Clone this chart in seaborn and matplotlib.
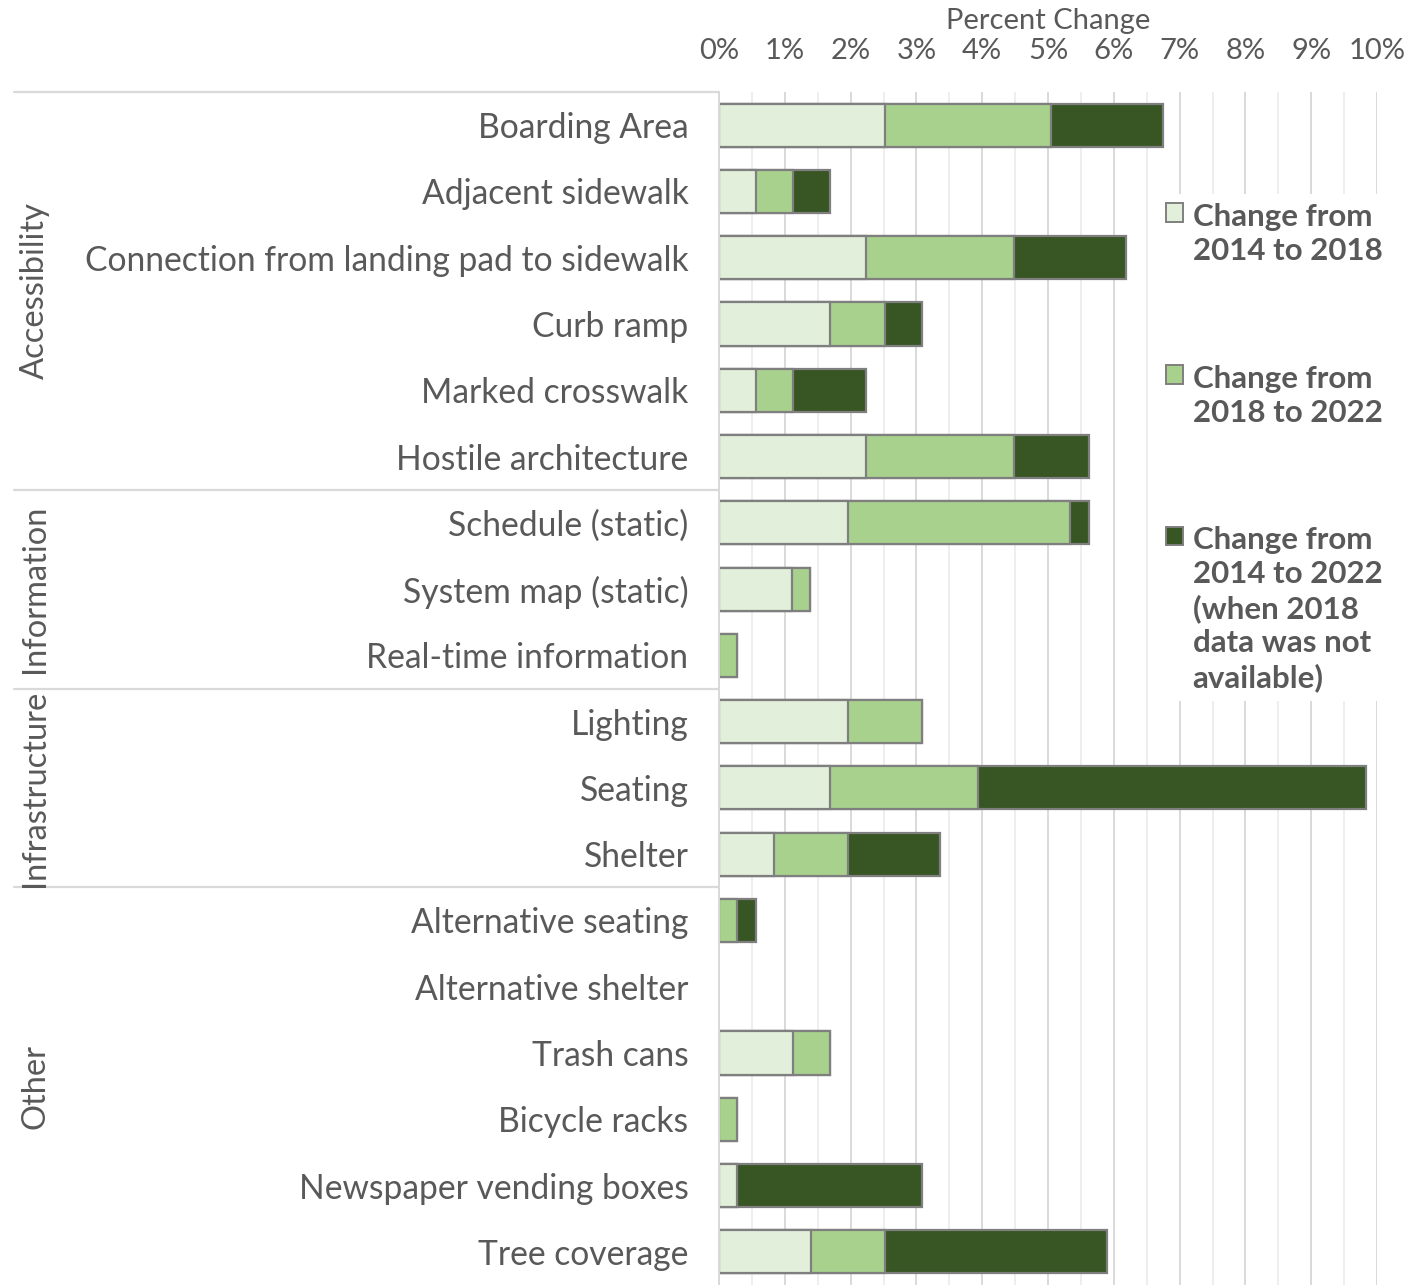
import numpy as np
import pandas as pd
import matplotlib.pyplot as plt
import matplotlib.transforms as mtransforms
from matplotlib.lines import Line2D
from matplotlib.patches import Patch
import seaborn as sns

# data (percent change)
items = [
    "Boarding Area", "Adjacent sidewalk", "Connection from landing pad to sidewalk",
    "Curb ramp", "Marked crosswalk", "Hostile architecture",
    "Schedule (static)", "System map (static)", "Real-time information",
    "Lighting", "Seating", "Shelter",
    "Alternative seating", "Alternative shelter", "Trash cans",
    "Bicycle racks", "Newspaper vending boxes", "Tree coverage",
]
groups = ["Accessibility", "Information", "Infrastructure", "Other"]
group_sizes = [6, 3, 3, 6]

chg_14_18 = [2.52, 0.56, 2.24, 1.68, 0.56, 2.24, 1.96, 1.11, 0.0, 1.96, 1.68, 0.84,
             0.0, 0.0, 1.12, 0.0, 0.28, 1.40]
chg_18_22 = [2.53, 0.56, 2.25, 0.84, 0.56, 2.25, 3.38, 0.28, 0.28, 1.12, 2.25, 1.12,
             0.28, 0.0, 0.56, 0.28, 0.0, 1.12]
chg_14_22 = [1.70, 0.56, 1.69, 0.56, 1.12, 1.13, 0.28, 0.0, 0.0, 0.0, 5.91, 1.40,
             0.28, 0.0, 0.0, 0.0, 2.81, 3.37]

series_labels = [
    "Change from\n2014 to 2018",
    "Change from\n2018 to 2022",
    "Change from\n2014 to 2022\n(when 2018\ndata was not\navailable)",
]
colors = ["#e2efda", "#a9d18e", "#375623"]
edge = "#7f7f7f"
text_col = "#595959"

df = pd.DataFrame({"item": items, "a": chg_14_18, "b": chg_18_22, "c": chg_14_22})
df["cum1"] = df["a"]
df["cum2"] = df["a"] + df["b"]
df["cum3"] = df["cum2"] + df["c"]
for col in ["cum1", "cum2", "cum3"]:
    df[col] = df[col].replace(0, np.nan)

sns.set_theme(style="white")
plt.rcParams["font.family"] = ["Lato", "DejaVu Sans"]
plt.rcParams["text.color"] = text_col

fig = plt.figure(figsize=(14.16, 12.85), dpi=100)
ax = fig.add_axes([719 / 1416, 0.0, 658 / 1416, 1 - 92 / 1285])

# stacked bars: draw cumulative totals from longest to shortest
for col, c in zip(["cum3", "cum2", "cum1"], colors[::-1]):
    sns.barplot(data=df, y="item", x=col, order=items, color=c, saturation=1,
                edgecolor=edge, linewidth=1.6, width=0.65, errorbar=None, ax=ax)

ax.set_xlim(0, 10)
ax.set_ylim(len(items) - 0.5, -0.5)
ax.xaxis.tick_top()
ax.xaxis.set_label_position("top")
ax.set_xticks(np.arange(0, 11, 1))
ax.set_xticks(np.arange(0.5, 10, 1), minor=True)
ax.set_xticklabels([f"{i}%" for i in range(11)])
ax.xaxis.grid(True, which="major", color="#d9d9d9", linewidth=1.4)
ax.xaxis.grid(True, which="minor", color="#ebebeb", linewidth=1.2)
ax.set_axisbelow(True)
ax.tick_params(axis="x", which="both", length=0, pad=20, labelsize=21,
               labelcolor=text_col)
ax.tick_params(axis="y", length=0, pad=22, labelsize=24.2, labelcolor=text_col)
ax.set_xlabel("Percent Change", fontsize=21, color=text_col, labelpad=7)
ax.set_ylabel("")

for s in ["top", "right", "bottom"]:
    ax.spines[s].set_visible(False)
ax.spines["left"].set_color("#d9d9d9")
ax.spines["left"].set_linewidth(1.4)

# group separators and labels on the left
trans = mtransforms.blended_transform_factory(fig.transFigure, ax.transData)
start = 0
for g, n in zip(groups, group_sizes):
    fig.add_artist(Line2D([14 / 1416, 719 / 1416], [start - 0.5, start - 0.5],
                          transform=trans, color="#d9d9d9", linewidth=1.6))
    fig.text(35 / 1416, start + (n - 1) / 2, g, transform=trans, rotation=90,
             ha="center", va="center", fontsize=23.5, color=text_col)
    start += n

handles = [Patch(facecolor=c, edgecolor=edge, linewidth=1.4) for c in colors]
leg = ax.legend(handles, series_labels, loc="upper left",
                bbox_to_anchor=(1141 / 1416, 1 - 178 / 1285),
                bbox_transform=fig.transFigure, frameon=True, facecolor="white",
                edgecolor="none", framealpha=1, fancybox=False,
                borderpad=0.3, handlelength=0.55, handleheight=0.55,
                handletextpad=0.3, labelspacing=3.2,
                prop={"weight": "bold", "size": 22.5})
leg.get_frame().set_linewidth(0)
for t in leg.get_texts():
    t.set_color(text_col)
    t.set_linespacing(1.25)
# align markers with the first line of each label
for col in leg._legend_handle_box.get_children():
    for item in col.get_children():
        item.align = "top"

fig.savefig("out.png", dpi=100)
